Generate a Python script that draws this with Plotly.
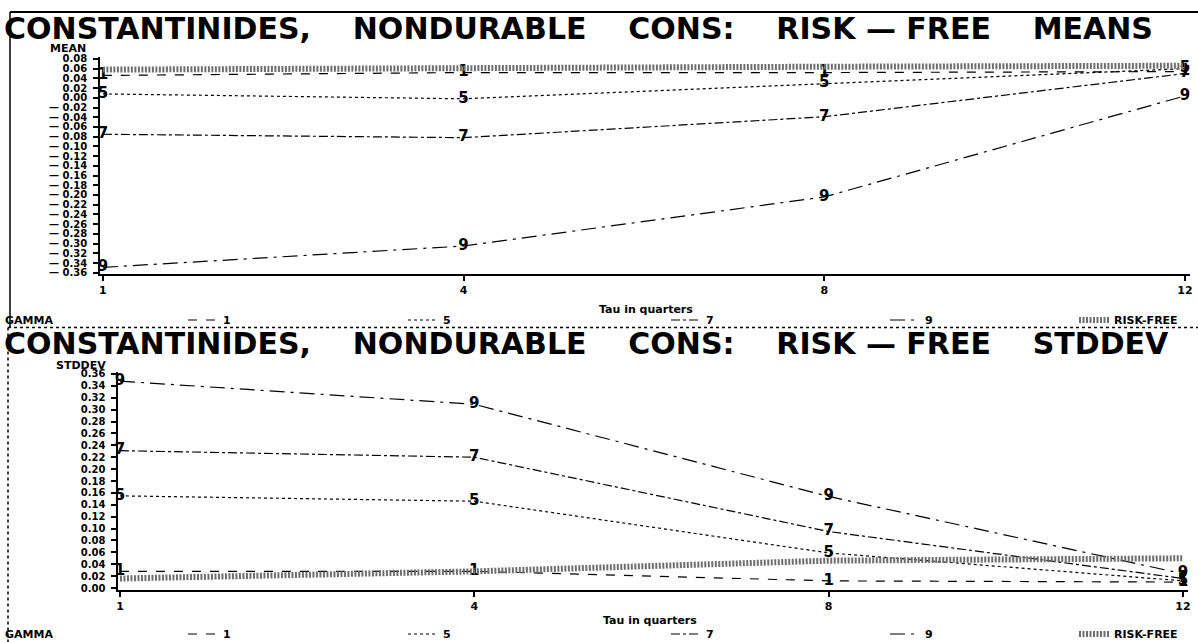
import plotly.graph_objects as go

# ---------------- data ----------------
tau = ["1", "4", "8", "12"]
gamma_labels = ["1", "5", "7", "9"]
rf_label = "RISK-FREE"

# risk-free MEANS (top panel)
mean_g1 = [0.046, 0.052, 0.052, 0.054]
mean_g5 = [0.008, -0.002, 0.029, 0.060]
mean_g7 = [-0.075, -0.082, -0.039, 0.050]
mean_g9 = [-0.349, -0.305, -0.204, 0.004]
mean_rf = [0.058, 0.062, 0.064, 0.066]

# risk-free STDDEV (bottom panel)
std_g1 = [0.028, 0.028, 0.012, 0.010]
std_g5 = [0.155, 0.146, 0.059, 0.012]
std_g7 = [0.231, 0.220, 0.095, 0.016]
std_g9 = [0.348, 0.309, 0.154, 0.024]
std_rf = [0.016, 0.028, 0.046, 0.050]

mean_tickvals = [0.08, 0.06, 0.04, 0.02, 0.00, -0.02, -0.04, -0.06, -0.08, -0.10,
                 -0.12, -0.14, -0.16, -0.18, -0.20, -0.22, -0.24, -0.26, -0.28,
                 -0.30, -0.32, -0.34, -0.36]
mean_ticktext = ["0.08", "0.06", "0.04", "0.02", "0.00", "\u2014 0.02", "\u2014 0.04",
                 "\u2014 0.06", "\u2014 0.08", "\u2014 0.10", "\u2014 0.12", "\u2014 0.14",
                 "\u2014 0.16", "\u2014 0.18", "\u2014 0.20", "\u2014 0.22", "\u2014 0.24",
                 "\u2014 0.26", "\u2014 0.28", "\u2014 0.30", "\u2014 0.32", "\u2014 0.34",
                 "\u2014 0.36"]
std_tickvals = [0.36, 0.34, 0.32, 0.30, 0.28, 0.26, 0.24, 0.22, 0.20, 0.18, 0.16,
                0.14, 0.12, 0.10, 0.08, 0.06, 0.04, 0.02, 0.00]
std_ticktext = ["0.36", "0.34", "0.32", "0.30", "0.28", "0.26", "0.24", "0.22", "0.20",
                "0.18", "0.16", "0.14", "0.12", "0.10", "0.08", "0.06", "0.04", "0.02",
                "0.00"]

GAP = "\u00a0\u00a0\u00a0\u00a0"
title_top = "CONSTANTINIDES," + GAP + "NONDURABLE" + GAP + "CONS:" + GAP + "RISK\u00a0\u2014\u00a0FREE" + GAP + "MEANS"
title_bot = "CONSTANTINIDES," + GAP + "NONDURABLE" + GAP + "CONS:" + GAP + "RISK\u00a0\u2014\u00a0FREE" + GAP + "STDDEV"

# ---------------- layout helpers ----------------
W, H = 1198, 642
FONT = "DejaVu Sans"


def px(x):
    return x / W


def py(y):
    return 1 - y / H


dashes = {"1": "dash", "5": "dot", "7": "dashdot", "9": "longdashdot"}
# spacing of the legend entries (px, excluding the symbol part)
legend_widths = {"1": 175, "5": 218, "7": 174, "9": 144}

fig = go.Figure()

panels = [
    ("x", "y", "legend", [mean_g1, mean_g5, mean_g7, mean_g9], mean_rf),
    ("x2", "y2", "legend2", [std_g1, std_g5, std_g7, std_g9], std_rf),
]

for xa, ya, lg, series, rf in panels:
    for i, (lab, vals) in enumerate(zip(gamma_labels, series)):
        fig.add_trace(go.Scatter(
            x=tau, y=vals, mode="lines+text", name=lab, legend=lg,
            legendwidth=legend_widths[lab],
            text=[lab] * len(tau), textposition="middle center",
            textfont=dict(family=FONT, size=15, color="black", weight="bold"),
            xaxis=xa, yaxis=ya, cliponaxis=False,
            line=dict(color="black", width=1.2, dash=dashes[lab]),
        ))
    fig.add_trace(go.Scatter(
        x=tau, y=rf, mode="lines", name=rf_label, legend=lg,
        xaxis=xa, yaxis=ya,
        line=dict(color="#6e6e6e", width=6, dash="2px,1.5px"),
        hoverinfo="skip",
    ))

tickfont = dict(family=FONT, size=10, color="black", weight="bold")
common_x = dict(type="category", categoryorder="array", categoryarray=tau,
                showline=True, linecolor="black", linewidth=2, ticks="outside",
                ticklen=5, tickwidth=1.5, tickcolor="black",
                tickfont=dict(tickfont, size=11),
                showgrid=False, zeroline=False, fixedrange=True)
common_y = dict(showline=True, linecolor="black", linewidth=1.5, ticks="outside",
                ticklen=5, tickwidth=1.5, tickcolor="black", tickfont=tickfont,
                showgrid=False, zeroline=False, tickmode="array", fixedrange=True,
                ticklabelstandoff=4)

legend_font = dict(family=FONT, size=11, color="black", weight="bold")
legend_common = dict(orientation="h", xanchor="left", yanchor="middle",
                     font=legend_font, bgcolor="rgba(0,0,0,0)")

fig.update_layout(
    width=W, height=H,
    margin=dict(l=0, r=0, t=0, b=0, autoexpand=False),
    paper_bgcolor="white", plot_bgcolor="white",
    font=dict(family=FONT, color="black"),
    xaxis=dict(common_x, domain=[px(100), px(1190.4)], range=[-0.008, 3.015], anchor="y"),
    yaxis=dict(common_y, domain=[py(273.7), py(57)], range=[-0.362, 0.084],
               tickvals=mean_tickvals, ticktext=mean_ticktext, anchor="x"),
    xaxis2=dict(common_x, domain=[px(118.2), px(1188.3)], range=[-0.005, 3.015], anchor="y2"),
    yaxis2=dict(common_y, domain=[py(589.8), py(371.6)], range=[-0.003, 0.364],
                tickvals=std_tickvals, ticktext=std_ticktext, anchor="x2"),
    legend=dict(legend_common, x=px(183), y=py(320)),
    legend2=dict(legend_common, x=px(183), y=py(634)),
    showlegend=True,
)

ann_font_big = dict(family=FONT, size=30, color="black", weight="bold")
ann_font_small = dict(family=FONT, size=11, color="black", weight="bold")
annotations = [
    dict(text=title_top, x=px(2), y=py(28), xanchor="left", yanchor="middle", font=ann_font_big),
    dict(text=title_bot, x=px(2), y=py(343), xanchor="left", yanchor="middle", font=ann_font_big),
    dict(text="MEAN", x=px(88), y=py(49), xanchor="right", yanchor="middle", font=ann_font_small),
    dict(text="STDDEV", x=px(108), y=py(365), xanchor="right", yanchor="middle", font=ann_font_small),
    dict(text="Tau in quarters", x=px(646), y=py(310), xanchor="center", yanchor="middle", font=ann_font_small),
    dict(text="Tau in quarters", x=px(650), y=py(620), xanchor="center", yanchor="middle", font=ann_font_small),
    dict(text="GAMMA", x=px(3), y=py(320), xanchor="left", yanchor="middle", font=ann_font_small),
    dict(text="GAMMA", x=px(3), y=py(634), xanchor="left", yanchor="middle", font=ann_font_small),
]
for a in annotations:
    a.update(xref="paper", yref="paper", showarrow=False)
fig.update_layout(annotations=annotations)

shapes = [
    dict(type="line", x0=px(10), x1=px(1198), y0=py(12), y1=py(12), line=dict(color="black", width=2)),
    dict(type="line", x0=px(10), x1=px(10), y0=py(12), y1=py(327), line=dict(color="black", width=1.5)),
    dict(type="line", x0=px(8), x1=px(1198), y0=py(327.5), y1=py(327.5), line=dict(color="black", width=1.5, dash="dot")),
    dict(type="line", x0=px(8), x1=px(8), y0=py(327.5), y1=py(642), line=dict(color="black", width=1.5, dash="dot")),
]
for s in shapes:
    s.update(xref="paper", yref="paper", layer="below")
fig.update_layout(shapes=shapes)

fig.write_html("out.html", config={"displayModeBar": False},
               post_script="document.body.style.margin='0px';")
